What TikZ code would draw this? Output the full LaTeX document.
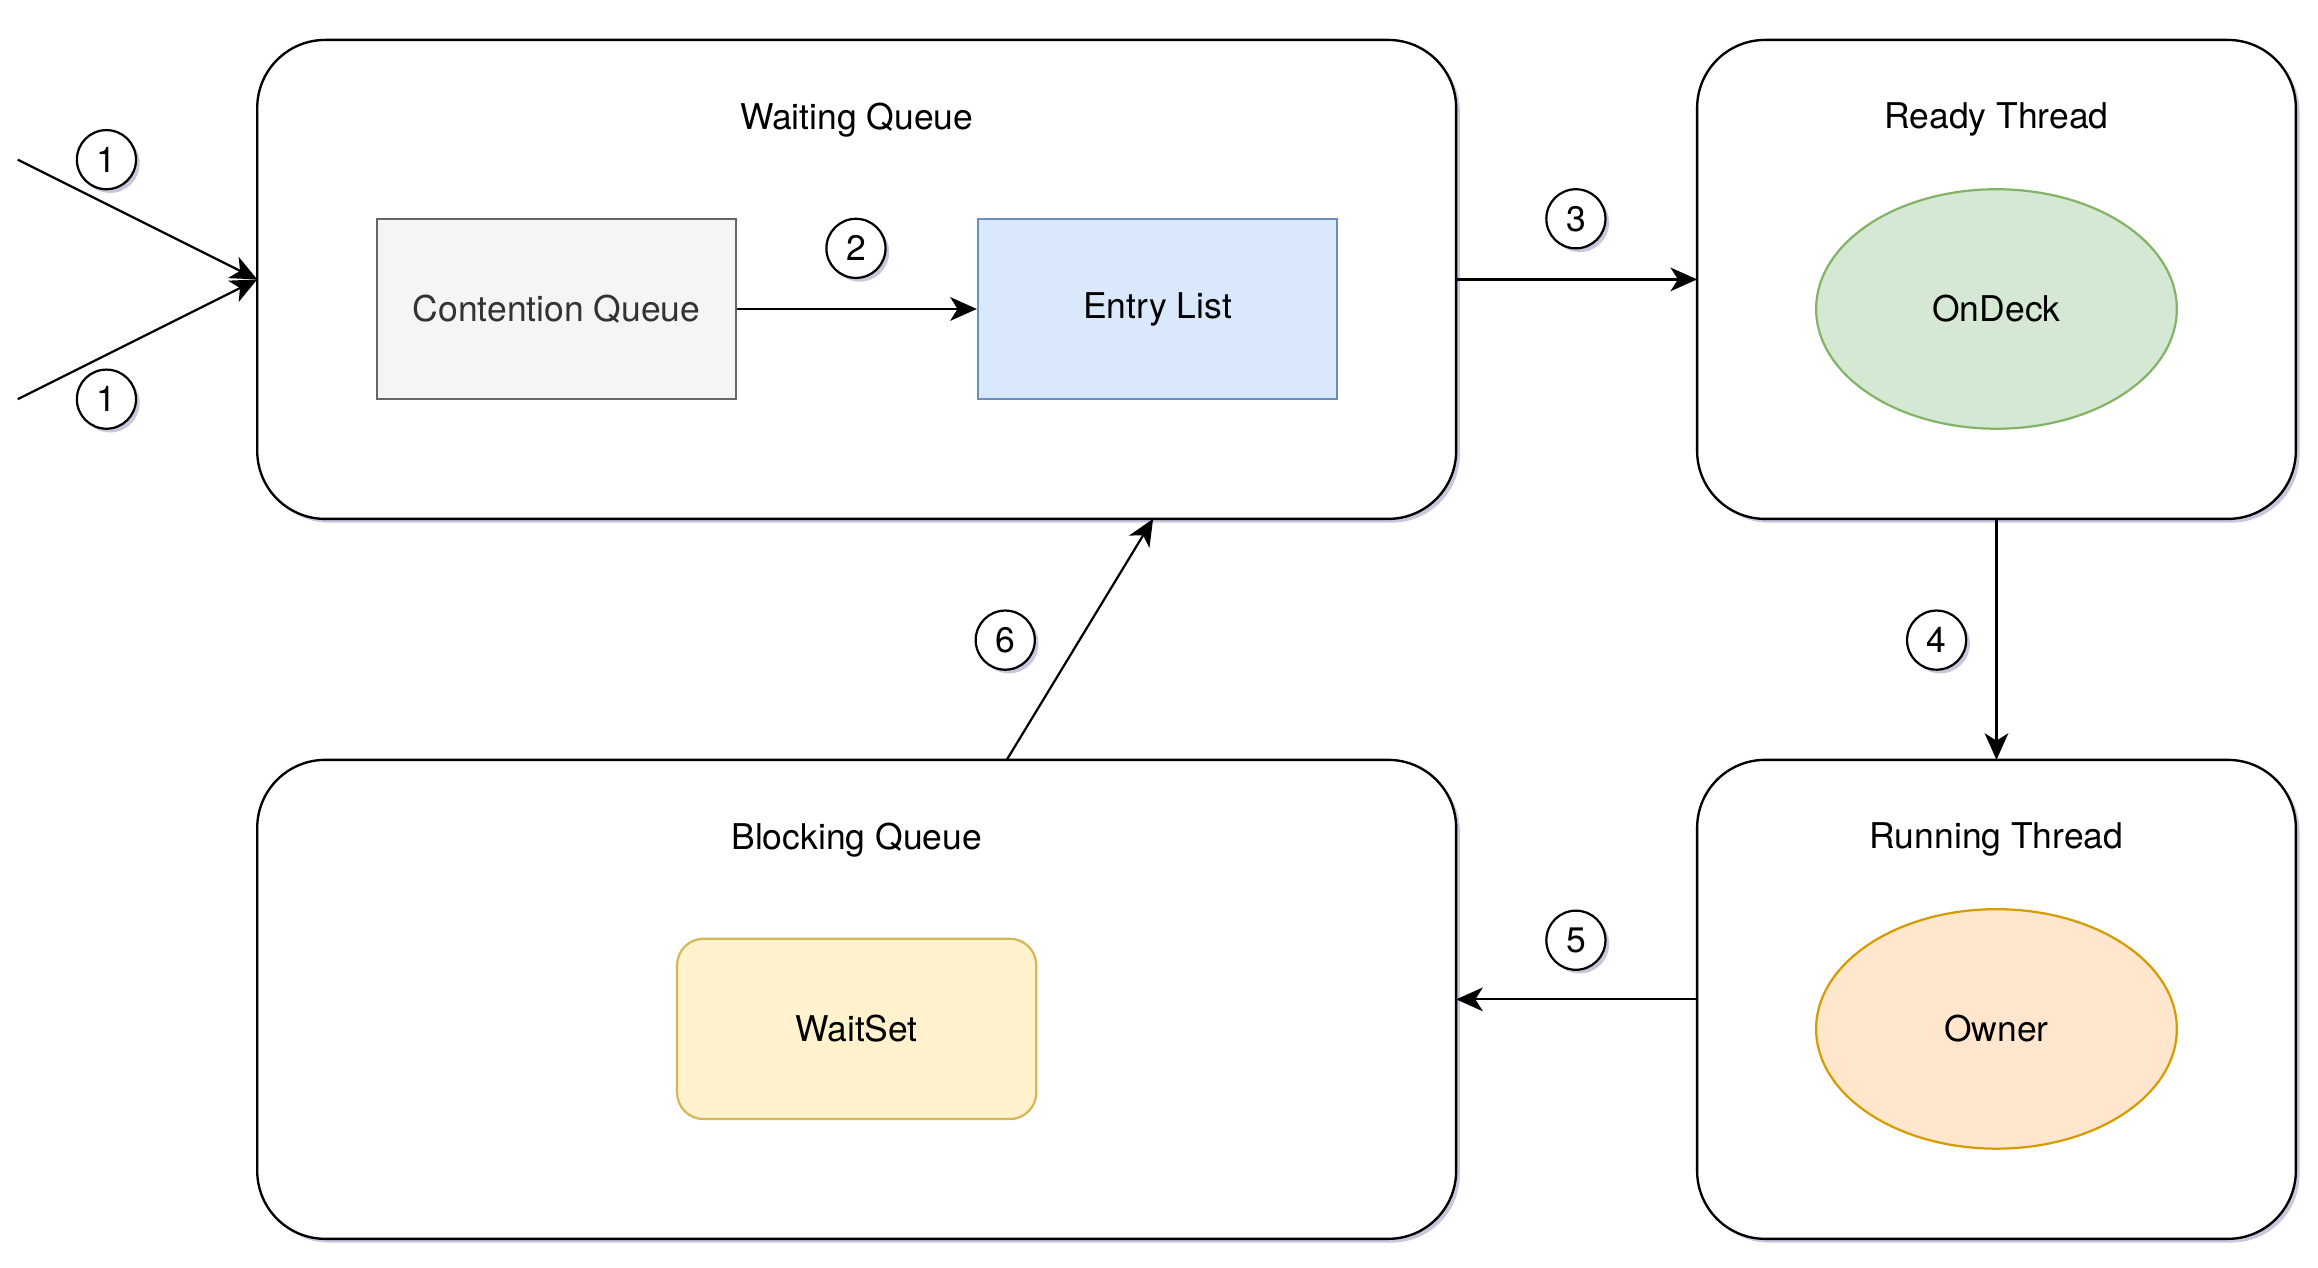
\documentclass[tikz,border=0pt]{standalone}
\usepackage{fontspec}
\setmainfont{TeX Gyre Heros}
\usepackage{xcolor}
\usetikzlibrary{shapes.geometric, positioning, shadows, arrows.meta}
\definecolor{cqfill}{HTML}{F5F5F5}
\definecolor{cqline}{HTML}{666666}
\definecolor{cqtext}{HTML}{333333}
\definecolor{elfill}{HTML}{DAE8FC}
\definecolor{elline}{HTML}{6C8EBF}
\definecolor{odfill}{HTML}{D5E8D4}
\definecolor{odline}{HTML}{82B366}
\definecolor{owfill}{HTML}{FFE6CC}
\definecolor{owline}{HTML}{D79B00}
\definecolor{wsfill}{HTML}{FFF2CC}
\definecolor{wsline}{HTML}{D6B656}
\tikzset{softshadow/.style={drop shadow={shadow xshift=2.5pt, shadow yshift=-2.5pt, opacity=0.22, fill=black!60!blue}}}
\tikzstyle{group} = [rectangle, rounded corners=46pt, minimum width=811pt, minimum height=324pt, outer sep=0pt, draw=black, line width=1.6pt, fill=white, softshadow]
\tikzstyle{threadgroup} = [group, minimum width=405pt]
\tikzstyle{queue} = [rectangle, minimum width=243pt, minimum height=122pt, text centered, line width=1.5pt]
\tikzstyle{thread} = [ellipse, minimum width=244pt, minimum height=162pt, text centered, line width=1.5pt]
\tikzstyle{stepnum} = [circle, minimum size=40pt, inner sep=0pt, draw=black, line width=1.5pt, fill=white, softshadow]
\tikzstyle{flow} = [-{Stealth[length=18pt, width=16pt, inset=5pt]}, line width=1.5pt]

\begin{document}
\begin{tikzpicture}[x=1pt, y=-1pt, font=\fontsize{24}{29}\selectfont]
		\useasboundingbox (0,0) rectangle (1568,857.7);
		% outer boxes
		\node (Waiting)[group] at (579.5,189){};
		\node (Ready)[threadgroup, right = 163pt of Waiting]{};
		\node (Blocking)[group, below = 163pt of Waiting]{};
		\node (Running)[threadgroup, below = 163pt of Ready]{};
		\node (WaitingTitle) at ([yshift=-54pt]Waiting.north){Waiting Queue};
		\node (ReadyTitle) at ([yshift=-54pt]Ready.north){Ready Thread};
		\node (BlockingTitle) at ([yshift=-54pt]Blocking.north){Blocking Queue};
		\node (RunningTitle) at ([yshift=-54pt]Running.north){Running Thread};
		% inner items
		\node (Contention)[queue, draw=cqline, fill=cqfill, text=cqtext] at (376.5,209){Contention Queue};
		\node (Entry)[queue, draw=elline, fill=elfill] at (783,209){Entry List};
		\node (OnDeck)[thread, draw=odline, fill=odfill] at (1350.5,209){OnDeck};
		\node (Owner)[thread, draw=owline, fill=owfill] at (1350.5,696){Owner};
		\node (WaitSet)[queue, rounded corners=18pt, draw=wsline, fill=wsfill] at (579.5,696){WaitSet};
		% incoming threads
		\coordinate (InA) at (12,108);
		\coordinate (InB) at (12,270);
		\draw [flow] (InA) -- (Waiting.west);
		\draw [flow] (InB) -- (Waiting.west);
		\draw [flow] (Contention) -- (Entry);
		\draw [flow] (Waiting.east) -- (Ready.west);
		\draw [flow] (Ready) -- (Running);
		\draw [flow] (Running.west) -- (Blocking.east);
		\draw [flow] ([xshift=101.5pt]Blocking.north) -- ([xshift=200.5pt]Waiting.south);
		% step numbers
		\node (StepA)[stepnum] at (72,108){1};
		\node (StepB)[stepnum] at (72,270){1};
		\node (StepTwo)[stepnum] at (579,168){2};
		\node (StepThree)[stepnum] at (1066,148){3};
		\node (StepFour)[stepnum] at (1310,433){4};
		\node (StepFive)[stepnum] at (1066,636){5};
		\node (StepSix)[stepnum] at (680,433){6};
	\end{tikzpicture}
\end{document}
